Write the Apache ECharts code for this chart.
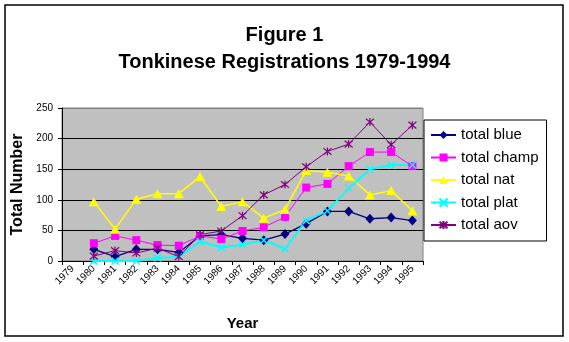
<!DOCTYPE html>
<html>
<head>
<meta charset="utf-8">
<script src="https://cdn.jsdelivr.net/npm/echarts@6/dist/echarts.min.js"></script>
<style>
  html, body { margin: 0; padding: 0; background: #fff; }
  #chart { width: 569px; height: 342px; }
</style>
</head>
<body>
<div id="chart"></div>
<script>
// Registration years shown on the category axis (1979 has no entries)
const years = ['1979', '1980', '1981', '1982', '1983', '1984', '1985', '1986', '1987',
               '1988', '1989', '1990', '1991', '1992', '1993', '1994', '1995'];

// Yearly totals per title, 1980-1995 (null = no entry for 1979)
const totalBlue  = [null, 19, 7, 19, 19, 14, 41, 43, 37, 34, 44, 61, 81, 81, 69, 71, 66];
const totalChamp = [null, 29, 41, 34, 26, 25, 41, 36, 49, 55, 72, 120, 126, 155, 178, 178, 155];
const totalNat   = [null, 97, 52, 101, 110, 110, 138, 89, 97, 70, 84, 148, 145, 139, 108, 115, 82];
const totalPlat  = [null, 0, 0, 0, 5, 7, 32, 22, 27, 34, 20, 66, 82, 119, 150, 157, 157];
const totalAov   = [null, 8, 17, 13, 21, 7, 43, 49, 74, 108, 125, 154, 179, 191, 227, 190, 222];

const seriesNames = ['total blue', 'total champ', 'total nat', 'total plat', 'total aov'];

const FONT = 'Liberation Sans, Arial, sans-serif';
const CROSS = 'path://M0 0L10 10M10 0L0 10';
const ASTERISK = 'path://M0 0L10 10M10 0L0 10M5 -1L5 11';

function makeSeries(name, data, color, symbol, symbolSize, lineWidth, stroke) {
  return {
    name: name,
    type: 'line',
    data: data,
    symbol: symbol,
    symbolSize: symbolSize,
    showAllSymbol: true,
    connectNulls: false,
    lineStyle: { color: color, width: lineWidth },
    itemStyle: {
      color: color,
      borderColor: color,
      borderWidth: stroke
    },
    emphasis: { disabled: true }
  };
}

const chart = echarts.init(document.getElementById('chart'), null, { renderer: 'canvas' });

chart.setOption({
  animation: false,
  backgroundColor: '#ffffff',
  textStyle: { fontFamily: FONT },
  title: {
    text: 'Figure 1\nTonkinese Registrations 1979-1994',
    left: 'center',
    top: 22,
    padding: 0,
    textStyle: {
      fontFamily: FONT,
      fontSize: 20,
      fontWeight: 'bold',
      color: '#000',
      lineHeight: 27
    }
  },
  graphic: [{
    type: 'rect',
    shape: { x: 5, y: 5, width: 558, height: 331 },
    style: { fill: 'none', stroke: '#000', lineWidth: 1.5 },
    silent: true,
    z: 100
  }],
  legend: {
    orient: 'vertical',
    left: 424,
    top: 120,
    padding: [7, 8, 8, 6],
    itemWidth: 25,
    itemHeight: 10,
    itemGap: 6.5,
    borderColor: '#000',
    borderWidth: 1,
    backgroundColor: '#fff',
    textStyle: { fontFamily: FONT, fontSize: 15, color: '#000', lineHeight: 16 },
    data: seriesNames
  },
  grid: {
    left: 62,
    top: 108,
    width: 361,
    height: 153,
    show: true,
    backgroundColor: '#c0c0c0',
    borderColor: '#808080',
    borderWidth: 1
  },
  xAxis: {
    type: 'category',
    data: years,
    boundaryGap: true,
    name: 'Year',
    nameLocation: 'middle',
    nameGap: 55,
    nameTextStyle: { fontFamily: FONT, fontSize: 15, fontWeight: 'bold', color: '#000' },
    axisLine: { show: true, lineStyle: { color: '#000', width: 1 } },
    axisTick: { show: true, interval: 0, length: 4, lineStyle: { color: '#000' } },
    axisLabel: {
      interval: 0,
      rotate: 45,
      margin: 6,
      fontFamily: FONT,
      fontSize: 10,
      color: '#000'
    },
    splitLine: { show: false }
  },
  yAxis: {
    type: 'value',
    min: 0,
    max: 250,
    interval: 50,
    name: 'Total Number',
    nameLocation: 'middle',
    nameGap: 34,
    nameRotate: 90,
    nameTextStyle: { fontFamily: FONT, fontSize: 16, fontWeight: 'bold', color: '#000' },
    axisLine: { show: true, lineStyle: { color: '#000', width: 1 } },
    axisTick: { show: true, length: 4, lineStyle: { color: '#000' } },
    axisLabel: { margin: 9, fontFamily: FONT, fontSize: 10, color: '#000' },
    splitLine: {
      show: true,
      lineStyle: { color: ['#000', '#000', '#000', '#000', '#000', '#808080'], width: 1 }
    }
  },
  series: [
    makeSeries(seriesNames[0], totalBlue,  '#000080', 'diamond',  [9, 10], 1.3, 0),
    makeSeries(seriesNames[1], totalChamp, '#ff00ff', 'rect',     8,       1,   0),
    makeSeries(seriesNames[2], totalNat,   '#ffff00', 'triangle', [10, 9], 1.5, 0),
    makeSeries(seriesNames[3], totalPlat,  '#00ffff', CROSS,      7,       2,   1.5),
    makeSeries(seriesNames[4], totalAov,   '#800080', ASTERISK,   8,       1,   1.2)
  ]
});
</script>
</body>
</html>
